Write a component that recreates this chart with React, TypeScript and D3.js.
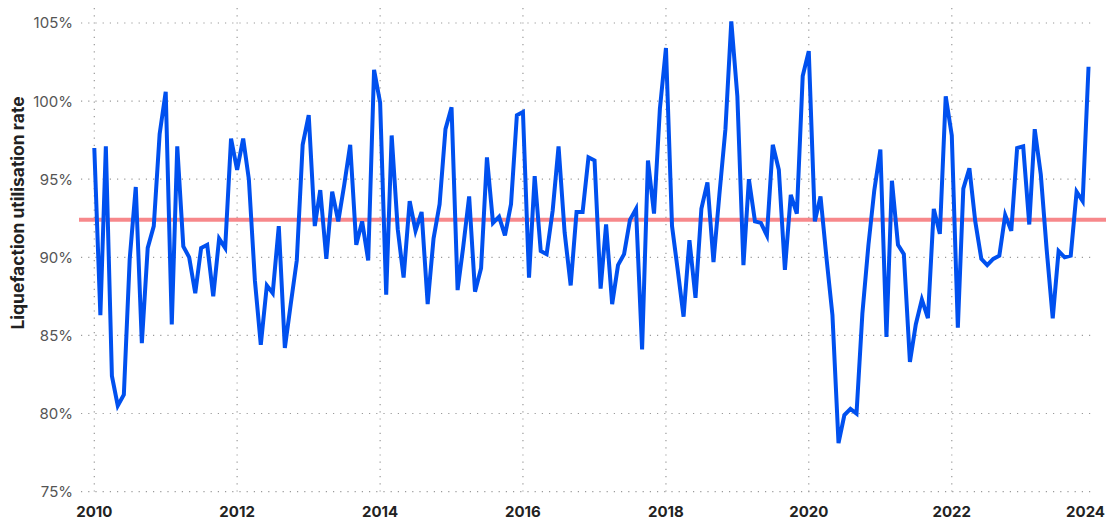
import React from "react";
import * as d3 from "d3";

// Monthly liquefaction utilisation rate (%), Jan..Dec of each year
const util2010 = [97.0, 86.3, 97.1, 82.4, 80.5, 81.2, 89.9, 94.5, 84.5, 90.6, 92.0, 97.9];
const util2011 = [100.6, 85.7, 97.1, 90.7, 90.0, 87.7, 90.6, 90.8, 87.5, 91.2, 90.6, 97.6];
const util2012 = [95.6, 97.6, 95.0, 88.5, 84.4, 88.2, 87.7, 92.0, 84.2, 87.0, 89.8, 97.2];
const util2013 = [99.1, 92.0, 94.3, 89.9, 94.2, 92.3, 94.6, 97.2, 90.8, 92.3, 89.8, 102.0];
const util2014 = [99.9, 87.6, 97.8, 91.8, 88.7, 93.6, 91.7, 92.9, 87.0, 91.2, 93.4, 98.2];
const util2015 = [99.6, 87.9, 90.6, 93.9, 87.8, 89.3, 96.4, 92.2, 92.6, 91.4, 93.4, 99.1];
const util2016 = [99.3, 88.7, 95.2, 90.4, 90.2, 93.0, 97.1, 91.6, 88.2, 92.9, 92.9, 96.4];
const util2017 = [96.2, 88.0, 92.1, 87.0, 89.5, 90.2, 92.4, 93.1, 84.1, 96.2, 92.8, 99.5];
const util2018 = [103.4, 92.0, 89.3, 86.2, 91.1, 87.4, 93.1, 94.8, 89.7, 94.0, 98.2, 105.1];
const util2019 = [100.3, 89.5, 95.0, 92.3, 92.2, 91.4, 97.2, 95.6, 89.2, 94.0, 92.8, 101.6];
const util2020 = [103.2, 92.3, 93.9, 89.9, 86.3, 78.1, 79.9, 80.3, 80.0, 86.4, 90.8, 94.3];
const util2021 = [96.9, 84.9, 94.9, 90.8, 90.2, 83.3, 85.7, 87.3, 86.1, 93.1, 91.5, 100.3];
const util2022 = [97.8, 85.5, 94.4, 95.7, 92.3, 89.9, 89.5, 89.9, 90.1, 92.7, 91.7, 97.0];
const util2023 = [97.1, 92.1, 98.2, 95.3, 90.5, 86.1, 90.4, 90.0, 90.1, 94.2, 93.6, 102.2];

const yearlySeries = [
  util2010, util2011, util2012, util2013, util2014, util2015, util2016,
  util2017, util2018, util2019, util2020, util2021, util2022, util2023,
];
const firstYear = 2010;

const averageRate = 92.4;

const yTicks = [75, 80, 85, 90, 95, 100, 105];
const xTickYears = [2010, 2012, 2014, 2016, 2018, 2020, 2022, 2024];

const yTitle = "Liquefaction utilisation rate";

const W = 1106;
const H = 521;

export default function App() {
  const points = yearlySeries.flatMap((arr, yi) =>
    arr.map((v, m) => ({ date: new Date(firstYear + yi, m, 1), value: v }))
  );

  const x = d3
    .scaleTime()
    .domain([new Date(2010, 0, 1), new Date(2024, 0, 1)])
    .range([94.3, 1094.6]);
  const y = d3.scaleLinear().domain([75, 105]).range([491.6, 23]);

  const line = d3
    .line<{ date: Date; value: number }>()
    .x((d) => x(d.date))
    .y((d) => y(d.value));

  const gridColor = "#9a9a9a";
  const font = "Inter, 'Noto Sans', sans-serif";

  return (
    <svg
      width={W}
      height={H}
      style={{ position: "absolute", left: 0, top: 0, background: "#fff" }}
    >
      {/* horizontal grid */}
      {yTicks.map((t) => (
        <line
          key={"h" + t}
          x1={81}
          x2={1095}
          y1={y(t)}
          y2={y(t)}
          stroke={gridColor}
          strokeWidth={1.2}
          strokeDasharray="1.2 6"
        />
      ))}
      {/* vertical grid */}
      {xTickYears
        .filter((yr) => yr < 2024)
        .map((yr) => {
          const xx = x(new Date(yr, 0, 1));
          return (
            <line
              key={"v" + yr}
              x1={xx}
              x2={xx}
              y1={8}
              y2={492}
              stroke={gridColor}
              strokeWidth={1.2}
              strokeDasharray="1.2 6"
            />
          );
        })}

      {/* y tick labels */}
      {yTicks.map((t) => (
        <text
          key={"yl" + t}
          x={73}
          y={y(t)}
          dy="0.36em"
          textAnchor="end"
          fontFamily={font}
          fontSize={15}
          fill="#555"
        >
          {t}%
        </text>
      ))}

      {/* x tick labels */}
      {xTickYears.map((yr) => {
        const xx = x(new Date(yr, 0, 1));
        const last = yr === 2024;
        return (
          <text
            key={"xl" + yr}
            x={last ? 1105 : xx}
            y={517}
            textAnchor={last ? "end" : "middle"}
            fontFamily={font}
            fontSize={15}
            fontWeight={700}
            fill="#222"
          >
            {yr}
          </text>
        );
      })}

      {/* y axis title */}
      <text
        transform={`translate(24, 213) rotate(-90)`}
        textAnchor="middle"
        fontFamily={font}
        fontSize={17.5}
        fontWeight={700}
        fill="#222"
      >
        {yTitle}
      </text>

      {/* average line */}
      <line
        x1={79}
        x2={1106}
        y1={y(averageRate)}
        y2={y(averageRate)}
        stroke="#f7888b"
        strokeWidth={4}
      />

      {/* series */}
      <path
        d={line(points) || ""}
        fill="none"
        stroke="#0050ef"
        strokeWidth={4}
        strokeLinejoin="miter"
      />
    </svg>
  );
}
